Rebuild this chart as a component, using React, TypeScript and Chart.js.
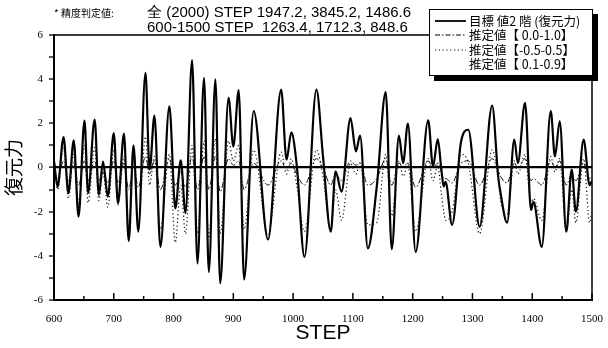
import React, { useEffect, useRef } from "react";
import { Chart, registerables } from "chart.js";

Chart.register(...registerables);

// time steps of the read-off turning points
const STEPS = [
  600, 606, 616, 624, 633, 641, 651, 657, 668, 675, 682, 690, 700, 707, 717, 725, 733, 741,
  753, 760, 768, 778, 793, 803, 812, 820, 831, 840, 851, 859, 870, 878, 892, 900, 909, 918,
  934, 958, 980, 989, 997, 1006, 1019, 1039, 1050, 1063, 1071, 1081, 1096, 1105, 1112, 1125,
  1140, 1155, 1165, 1177, 1184, 1192, 1205, 1226, 1234, 1242, 1248, 1252, 1255, 1266, 1281,
  1293, 1312, 1333, 1343, 1347, 1358, 1370, 1376, 1388, 1398, 1402, 1416, 1431, 1438, 1446,
  1457, 1466, 1473, 1486, 1496, 1500,
];

// 目標 値2 階 (復元力)
const TARGET = [
  0.3, -0.86, 1.38, -1.16, 1.23, -2.23, 2.12, -1.16, 2.17, -1.24, 0.27, -1.32, 1.56, -1.62, 1.53, -3.32, 1.0, -2.91,
  4.29, -0.1, 2.35, -3.59, 2.77, -1.85, 0.32, -2.06, 4.86, -4.35, 4.06, -4.73, 3.99, -5.25, 3.15, 0.95, 3.5, -5.07,
  2.55, -3.26, 3.53, 0.35, 1.59, 0.12, -4.05, 3.53, 0.5, -2.91, -0.18, -1.09, 2.24, 0.73, 1.44, -3.66,
  -0.86, 3.41, -3.7, 1.44, 0.2, 1.99, -3.82, 2.14, 0.05, 1.29, -0.1, -0.86, -0.65, -2.6, 1.18,
  1.71, -2.68, 2.8, -0.4, -1.15, -2.5, 1.26, 0.2, 2.93, -1.92, -1.56, -3.59, 2.55, 0.5, 2.09,
  -2.91, -0.1, -2.0, 1.26, -0.8, -0.6,
];

// 推定値【 0.0-1.0】
const EST_00_10 = [
  0.0, -0.5, 0.3, -0.6, 0.2, -0.8, 0.3, -0.6, 0.3, -0.6, -0.2, -0.7, 0.3, -0.7, 0.2, -1.0, 0.1, -0.9,
  0.5, -0.3, 0.3, -1.0, 0.4, -0.8, -0.2, -0.9, 0.5, -1.0, 0.5, -1.0, 0.5, -1.1, 0.4, 0.1, 0.3, -1.0,
  0.2, -0.8, 0.3, -0.1, 0.2, -0.3, -0.8, 0.4, 0.0, -0.8, -0.3, -0.6, 0.3, 0.1, 0.2, -0.8,
  -0.5, 0.4, -0.8, 0.2, 0.0, 0.2, -0.9, 0.3, 0.0, 0.2, -0.2, -0.5, -0.5, -0.7, 0.2,
  0.3, -0.8, 0.4, -0.1, -0.4, -0.7, 0.2, 0.0, 0.4, -0.6, -0.5, -0.8, 0.3, 0.0, 0.3,
  -0.8, -0.3, -0.6, 0.2, -0.5, -0.4,
];

// 推定値【-0.5-0.5】
const EST_05_05 = [
  0.5, -1.0, 0.9, -1.4, 0.6, -1.6, 1.0, -1.6, 0.9, -1.5, -0.2, -1.8, 0.8, -1.7, 0.5, -2.8, 0.3, -2.6,
  1.4, -0.8, 0.5, -2.8, 0.6, -3.4, -0.8, -3.0, 1.0, -3.0, 1.2, -3.2, 1.3, -3.0, 1.2, 0.3, 1.0, -2.8,
  0.8, -3.0, 0.7, -0.3, 0.4, -0.8, -2.9, 0.8, -0.4, -2.9, -1.0, -2.4, 0.2, -0.3, 0.2, -2.6,
  -2.5, 0.6, -2.2, 0.3, -0.4, 0.1, -2.9, 0.4, -0.6, 0.1, -1.2, -2.0, -2.4, -2.0, 0.6,
  0.2, -3.0, 0.8, -0.5, -1.5, -2.1, 0.3, -0.3, 0.6, -1.6, -1.4, -2.4, 0.5, -0.2, 0.4,
  -2.9, -1.0, -2.5, 0.4, -2.5, -2.0,
];

const LEGEND_LABELS = ["目標 値2 階 (復元力)", "推定値【 0.0-1.0】", "推定値【-0.5-0.5】", "推定値【 0.1-0.9】"];
const NOTE_LINE1_PREFIX = "* 精度判定値:";
const NOTE_LINE1 = "全 (2000) STEP 1947.2, 3845.2, 1486.6";
const NOTE_LINE2 = "600-1500 STEP  1263.4, 1712.3, 848.6";

const X_MIN = 600;
const X_MAX = 1500;
const Y_MIN = -6;
const Y_MAX = 6;

const toPoints = (ys: number[]) => STEPS.map((s, i) => ({ x: s, y: ys[i] }));

const framePlugin = {
  id: "frame",
  afterDatasetsDraw(chart: any) {
    const { ctx, chartArea, scales } = chart;
    ctx.save();
    ctx.strokeStyle = "#000";
    ctx.lineWidth = 1.5;
    ctx.beginPath();
    ctx.moveTo(chartArea.left, chartArea.top);
    ctx.lineTo(chartArea.right, chartArea.top);
    ctx.lineTo(chartArea.right, chartArea.bottom);
    ctx.stroke();
    // inward x ticks
    const xs = scales.x;
    for (let v = X_MIN; v <= X_MAX; v += 50) {
      const px = xs.getPixelForValue(v);
      const len = v % 100 === 0 ? 7 : 4;
      ctx.beginPath();
      ctx.moveTo(px, chartArea.bottom);
      ctx.lineTo(px, chartArea.bottom - len);
      ctx.stroke();
    }
    ctx.restore();
  },
};

function ChartCanvas() {
  const ref = useRef<HTMLCanvasElement | null>(null);
  useEffect(() => {
    document.body.style.margin = "0";
    const chart = new Chart(ref.current as HTMLCanvasElement, {
      type: "line",
      data: {
        datasets: [
          {
            label: LEGEND_LABELS[2],
            data: toPoints(EST_05_05),
            borderColor: "#111",
            borderWidth: 1.2,
            borderDash: [1.2, 2.6],
            pointRadius: 0,
            cubicInterpolationMode: "monotone",
            tension: 0.4,
          },
          {
            label: LEGEND_LABELS[1],
            data: toPoints(EST_00_10),
            borderColor: "#111",
            borderWidth: 1,
            borderDash: [6, 2, 1.5, 2],
            pointRadius: 0,
            cubicInterpolationMode: "monotone",
            tension: 0.4,
          },
          {
            label: LEGEND_LABELS[0],
            data: toPoints(TARGET),
            borderColor: "#000",
            borderWidth: 2.2,
            pointRadius: 0,
            cubicInterpolationMode: "monotone",
            tension: 0.4,
          },
        ],
      },
      options: {
        animation: false,
        responsive: true,
        maintainAspectRatio: false,
        layout: { padding: { top: 35, right: 14, left: 0, bottom: 0 } },
        plugins: { legend: { display: false }, tooltip: { enabled: false } },
        scales: {
          x: {
            type: "linear",
            min: X_MIN,
            max: X_MAX,
            afterFit: (s: any) => {
              s.height = 48;
            },
            border: { display: true, color: "#000", width: 2 },
            grid: { display: false },
            ticks: {
              stepSize: 50,
              autoSkip: false,
              maxRotation: 0,
              padding: 5,
              color: "#000",
              font: { family: "'Liberation Serif', serif", size: 11 },
              callback: (v: any) => (Number(v) % 100 === 0 ? String(v) : ""),
            },
            title: {
              display: true,
              text: "STEP",
              color: "#000",
              font: { family: "'Liberation Sans', Arial, sans-serif", size: 21 },
              padding: { top: 0, bottom: 2 },
            },
          },
          y: {
            min: Y_MIN,
            max: Y_MAX,
            afterFit: (s: any) => {
              s.width = 54;
            },
            border: { display: true, color: "#000", width: 2 },
            grid: {
              drawOnChartArea: true,
              color: (c: any) => (c.tick && c.tick.value === 0 ? "#000" : "rgba(0,0,0,0)"),
              lineWidth: (c: any) => (c.tick && c.tick.value === 0 ? 2.2 : 0),
              tickColor: "#000",
              tickWidth: 1.3,
              tickLength: 5,
            },
            ticks: {
              stepSize: 1,
              autoSkip: false,
              padding: 6,
              color: "#000",
              font: { family: "'Liberation Serif', serif", size: 11 },
              callback: (v: any) => (Number(v) % 2 === 0 ? String(v) : ""),
            },
            title: {
              display: true,
              text: "復元力",
              color: "#000",
              font: { family: "'Noto Sans CJK JP', sans-serif", size: 19 },
              padding: { top: 2, bottom: 0 },
            },
          },
        },
      },
      plugins: [framePlugin],
    } as any);
    return () => chart.destroy();
  }, []);
  return <canvas ref={ref} />;
}

function Sample({ kind }: { kind: string }) {
  if (kind === "none") return <span style={{ display: "inline-block", width: 34 }} />;
  const dash = kind === "solid" ? undefined : kind === "dashdot" ? "5 2 1.5 2" : "1.2 2.6";
  return (
    <svg width={34} height={8} style={{ display: "inline-block", verticalAlign: "middle" }}>
      <line x1={1} y1={4} x2={32} y2={4} stroke="#000" strokeWidth={kind === "solid" ? 1.8 : 1} strokeDasharray={dash} />
    </svg>
  );
}

export default function App() {
  const kinds = ["solid", "dashdot", "dotted", "none"];
  return (
    <div style={{ position: "relative", width: 608, height: 348, background: "#fff", overflow: "hidden" }}>
      <ChartCanvas />
      <div
        style={{
          position: "absolute",
          left: 54,
          top: 5,
          fontFamily: "'Noto Sans CJK JP', sans-serif",
          fontSize: 10,
          color: "#000",
          whiteSpace: "nowrap",
          lineHeight: "16px",
        }}
      >
        {NOTE_LINE1_PREFIX}
      </div>
      <div
        style={{
          position: "absolute",
          left: 147,
          top: 4,
          fontFamily: "'Liberation Sans', Arial, sans-serif",
          fontSize: 15,
          color: "#000",
          whiteSpace: "pre",
          lineHeight: "15px",
        }}
      >
        {NOTE_LINE1}
        {"\n"}
        {NOTE_LINE2}
      </div>
      <div
        style={{
          position: "absolute",
          left: 429,
          top: 9,
          width: 164,
          height: 67,
          border: "1px solid #000",
          background: "#fff",
          boxShadow: "5px 5px 0 #000",
          boxSizing: "border-box",
          padding: "4px 0 0 4px",
          fontFamily: "'Noto Sans CJK JP', sans-serif",
          fontSize: 12.5,
          color: "#000",
          lineHeight: "14.3px",
          whiteSpace: "nowrap",
        }}
      >
        {LEGEND_LABELS.map((t, i) => (
          <div key={i} style={{ display: "flex", alignItems: "center", height: 14.3 }}>
            <Sample kind={kinds[i]} />
            <span style={{ marginLeft: 1 }}>{t}</span>
          </div>
        ))}
      </div>
    </div>
  );
}
